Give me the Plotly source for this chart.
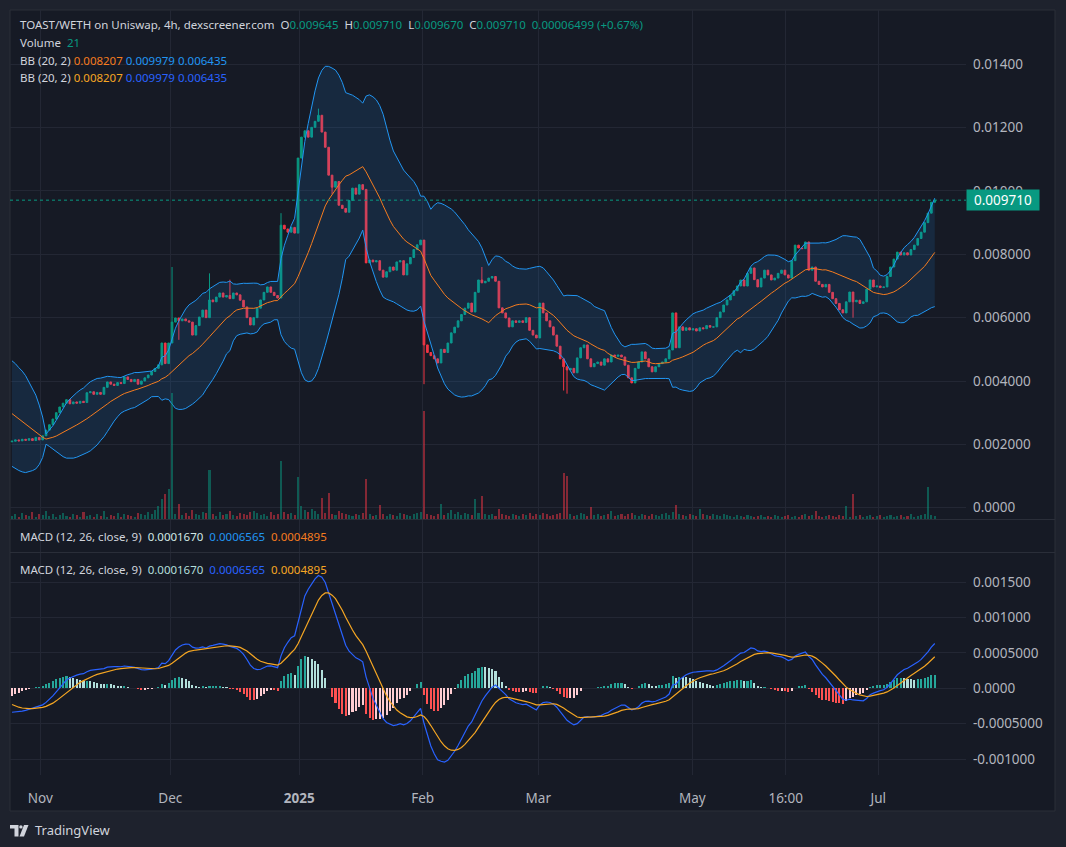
import numpy as np
import pandas as pd
import plotly.graph_objects as go

W, H = 1066, 847

# ---------------- data ----------------
first_open = 0.00208
closes = [
    0.00210, 0.00214, 0.00211, 0.00216, 0.00213, 0.00218, 0.00212, 0.00222, 0.00214, 0.00227,
    0.00245, 0.00262, 0.00280, 0.00300, 0.00318, 0.00330, 0.00341, 0.00328, 0.00334, 0.00330,
    0.00336, 0.00332, 0.00363, 0.00366, 0.00358, 0.00364, 0.00358, 0.00380, 0.00397, 0.00390,
    0.00386, 0.00395, 0.00392, 0.00413, 0.00405, 0.00398, 0.00405, 0.00390, 0.00400, 0.00410,
    0.00419, 0.00430, 0.00440, 0.00451, 0.00520, 0.00455, 0.00520, 0.00586, 0.00599, 0.00590,
    0.00596, 0.00590, 0.00586, 0.00545, 0.00575, 0.00602, 0.00624, 0.00600, 0.00656, 0.00650,
    0.00665, 0.00678, 0.00665, 0.00670, 0.00660, 0.00678, 0.00672, 0.00655, 0.00634, 0.00600,
    0.00577, 0.00600, 0.00630, 0.00656, 0.00680, 0.00697, 0.00680, 0.00670, 0.00662, 0.00892,
    0.00880, 0.00870, 0.00885, 0.00867, 0.01104, 0.01170, 0.01190, 0.01170, 0.01201, 0.01220,
    0.01239, 0.01186, 0.01138, 0.01050, 0.01012, 0.01030, 0.00955, 0.00945, 0.00933, 0.00970,
    0.01009, 0.00990, 0.01020, 0.01005, 0.00773, 0.00782, 0.00776, 0.00780, 0.00750, 0.00728,
    0.00745, 0.00760, 0.00750, 0.00776, 0.00780, 0.00735, 0.00770, 0.00790, 0.00815, 0.00830,
    0.00845, 0.00514, 0.00490, 0.00480, 0.00470, 0.00457, 0.00500, 0.00490, 0.00520, 0.00552,
    0.00570, 0.00590, 0.00610, 0.00630, 0.00646, 0.00618, 0.00680, 0.00719, 0.00710, 0.00715,
    0.00725, 0.00730, 0.00715, 0.00631, 0.00615, 0.00599, 0.00571, 0.00590, 0.00585, 0.00590,
    0.00585, 0.00600, 0.00560, 0.00545, 0.00536, 0.00646, 0.00615, 0.00590, 0.00571, 0.00545,
    0.00510, 0.00470, 0.00445, 0.00435, 0.00440, 0.00426, 0.00473, 0.00505, 0.00514, 0.00470,
    0.00445, 0.00455, 0.00460, 0.00450, 0.00470, 0.00460, 0.00482, 0.00478, 0.00482, 0.00476,
    0.00450, 0.00410, 0.00394, 0.00440, 0.00460, 0.00492, 0.00470, 0.00445, 0.00429, 0.00445,
    0.00455, 0.00460, 0.00470, 0.00498, 0.00615, 0.00505, 0.00571, 0.00560, 0.00568, 0.00561,
    0.00565, 0.00558, 0.00568, 0.00565, 0.00575, 0.00570, 0.00571, 0.00600, 0.00618, 0.00640,
    0.00656, 0.00670, 0.00685, 0.00700, 0.00719, 0.00700, 0.00740, 0.00757, 0.00720, 0.00697,
    0.00725, 0.00750, 0.00735, 0.00719, 0.00725, 0.00740, 0.00750, 0.00735, 0.00725, 0.00780,
    0.00829, 0.00820, 0.00818, 0.00839, 0.00750, 0.00760, 0.00715, 0.00705, 0.00697, 0.00705,
    0.00680, 0.00660, 0.00645, 0.00625, 0.00615, 0.00650, 0.00681, 0.00650, 0.00655, 0.00645,
    0.00650, 0.00690, 0.00719, 0.00697, 0.00700, 0.00695, 0.00697, 0.00730, 0.00760, 0.00785,
    0.00807, 0.00798, 0.00805, 0.00798, 0.00815, 0.00829, 0.00850, 0.00870, 0.00900, 0.00930,
    0.009645, 0.009710,
]
# closes before the visible window (estimated from the band / MACD start values)
warmup_closes = [
    0.00300, 0.00290, 0.00310, 0.00300, 0.00320, 0.00310, 0.00300, 0.00290, 0.00300, 0.00310,
    0.00300, 0.00320, 0.00330, 0.00310, 0.00300, 0.00290, 0.00310, 0.00320, 0.00330, 0.00340,
    0.00350, 0.00380, 0.00390, 0.00370, 0.00380, 0.00400, 0.00380, 0.00370, 0.00390, 0.00380,
    0.00360, 0.00220, 0.00210, 0.00220, 0.00210, 0.00220, 0.00210, 0.00220, 0.00210, 0.00212,
]
wick_high = {47: 0.0076, 58: 0.0074, 64: 0.0072, 79: 0.0093, 90: 0.0126, 138: 0.0076}
wick_low = {49: 0.0053, 94: 0.0099, 121: 0.0039, 162: 0.0037, 163: 0.0036, 247: 0.0060}
volumes = [
    21, 35, 14, 42, 28, 21, 49, 14, 35, 28,
    56, 21, 35, 14, 28, 42, 21, 14, 35, 28,
    14, 49, 21, 28, 14, 35, 21, 56, 14, 28,
    21, 42, 14, 35, 28, 21, 14, 42, 35, 28,
    49, 35, 63, 91, 140, 175, 210, 882, 35, 105,
    28, 42, 21, 63, 35, 28, 49, 42, 343, 35,
    21, 49, 28, 35, 56, 28, 21, 42, 35, 28,
    49, 56, 42, 28, 35, 21, 49, 28, 35, 406,
    49, 35, 42, 28, 294, 91, 63, 49, 70, 56,
    35, 147, 42, 182, 35, 28, 56, 42, 35, 28,
    21, 35, 28, 42, 280, 35, 21, 28, 98, 35,
    21, 35, 28, 21, 42, 35, 28, 21, 35, 42,
    49, 756, 35, 28, 21, 35, 105, 28, 42, 63,
    35, 49, 28, 42, 35, 28, 140, 42, 161, 35,
    28, 35, 21, 70, 35, 28, 21, 35, 28, 21,
    35, 28, 42, 21, 35, 28, 42, 35, 21, 28,
    35, 42, 322, 301, 35, 21, 28, 42, 35, 21,
    84, 28, 35, 21, 28, 35, 56, 21, 28, 35,
    21, 35, 42, 28, 21, 35, 28, 21, 35, 28,
    21, 35, 42, 28, 49, 98, 35, 28, 21, 35,
    28, 21, 70, 35, 28, 21, 35, 28, 21, 35,
    28, 21, 14, 28, 21, 14, 28, 21, 14, 21,
    28, 14, 21, 14, 28, 21, 14, 21, 28, 14,
    21, 14, 28, 35, 21, 28, 56, 21, 14, 21,
    28, 21, 14, 28, 21, 91, 14, 175, 21, 28,
    14, 21, 28, 14, 21, 28, 14, 21, 28, 14,
    21, 28, 14, 21, 35, 14, 21, 28, 35, 224,
    28, 21,
]
time_labels = ["Nov", "Dec", "<b>2025</b>", "Feb", "Mar", "May", "16:00", "Jul"]
time_pos = [8.31, 46.49, 84.38, 120.62, 154.57, 199.79, 227.22, 254.42]
price_ticks = [0.0, 0.002, 0.004, 0.006, 0.008, 0.010, 0.012, 0.014]
price_tick_text = ["0.0000", "0.002000", "0.004000", "0.006000", "0.008000",
                   "0.01000", "0.01200", "0.01400"]
macd_ticks = [-0.001, -0.0005, 0.0, 0.0005, 0.001, 0.0015]
macd_tick_text = ["-0.001000", "-0.0005000", "0.0000", "0.0005000", "0.001000", "0.001500"]
last_price = 0.009710
last_price_text = "0.009710"

# ---------------- styling ----------------
FONT = "Noto Sans"
OUTER_BG = "#1e222d"
PANEL_BG = "#161a25"
BORDER = "#2a2e39"
GRID = "#232734"
TEXT = "#d1d4dc"
AXIS_TEXT = "#b2b5be"
UP = "#089981"
DOWN = "#f23645"
LEG = 11.5
AX = 13.5

def px(x):
    return x / W

def py(y):
    return 1 - y / H

n = len(closes)
idx = np.arange(n)
opens = [first_open] + closes[:-1]
highs = [max(o, c, wick_high.get(i, 0)) for i, (o, c) in enumerate(zip(opens, closes))]
lows = [min(o, c, wick_low.get(i, 1)) for i, (o, c) in enumerate(zip(opens, closes))]

full = pd.Series(warmup_closes + closes)
k = len(warmup_closes)
mid = full.rolling(20).mean()
sd = full.rolling(20).std(ddof=0)
upper = (mid + 2 * sd).iloc[k:].values
lower = (mid - 2 * sd).iloc[k:].values
basis = mid.iloc[k:].values
ema12 = full.ewm(span=12, adjust=False).mean()
ema26 = full.ewm(span=26, adjust=False).mean()
macd_full = ema12 - ema26
sig_full = macd_full.ewm(span=9, adjust=False).mean()
hist_full = macd_full - sig_full
macd = macd_full.iloc[k:].values
sig = sig_full.iloc[k:].values
hist = hist_full.iloc[k:].values
hist_prev = hist_full.shift(1).iloc[k:].values
hist_colors = []
for h, hp in zip(hist, hist_prev):
    if h >= 0:
        hist_colors.append("#26a69a" if h > hp else "#b2dfdb")
    else:
        hist_colors.append("#ff5252" if h < hp else "#ffcdd2")

vol_colors = ["rgba(8,153,129,0.5)" if c >= o else "rgba(242,54,69,0.5)"
              for o, c in zip(opens, closes)]

# ---------------- geometry ----------------
x_left_px, x_right_px = 10, 966
step = 3.405
x0_px = 12
xr = [(x_left_px - x0_px) / step, (x_right_px - x0_px) / step]
xdom = [px(x_left_px), px(x_right_px)]
price_dom = [py(519), py(10)]
mini_dom = [py(552), py(520)]
macd_dom = [py(775), py(553)]
p_per_px = 0.014 / (507.7 - 64.3)
price_range = [-(519 - 507.7) * p_per_px, (507.7 - 10) * p_per_px]
m_per_px = 0.0005 / 35.4
macd_range = [-(775 - 688.3) * m_per_px, (688.3 - 553) * m_per_px]
vol_range = [0, 509 * 7]

fig = go.Figure()
# Bollinger fill + lines
fig.add_trace(go.Scatter(x=idx, y=upper, mode="lines", line=dict(color="#2196f3", width=1),
                         xaxis="x", yaxis="y", hoverinfo="skip"))
fig.add_trace(go.Scatter(x=idx, y=lower, mode="lines", line=dict(color="#2196f3", width=1),
                         fill="tonexty", fillcolor="rgba(33,150,243,0.13)",
                         xaxis="x", yaxis="y", hoverinfo="skip"))
fig.add_trace(go.Scatter(x=idx, y=basis, mode="lines", line=dict(color="#f57c1f", width=1),
                         xaxis="x", yaxis="y", hoverinfo="skip"))
# candles
fig.add_trace(go.Candlestick(
    x=idx, open=opens, high=highs, low=lows, close=closes,
    increasing=dict(line=dict(color=UP, width=1), fillcolor=UP),
    decreasing=dict(line=dict(color=DOWN, width=1), fillcolor=DOWN),
    whiskerwidth=0, xaxis="x", yaxis="y", hoverinfo="skip"))
# volume
fig.add_trace(go.Bar(x=idx, y=volumes, marker=dict(color=vol_colors, line=dict(width=0)),
                     width=0.6, xaxis="x", yaxis="y4", hoverinfo="skip"))
# MACD pane
fig.add_trace(go.Bar(x=idx, y=hist, marker=dict(color=hist_colors, line=dict(width=0)),
                     width=0.6, xaxis="x2", yaxis="y2", hoverinfo="skip"))
fig.add_trace(go.Scatter(x=idx, y=macd, mode="lines", line=dict(color="#2962ff", width=1.2),
                         xaxis="x2", yaxis="y2", hoverinfo="skip"))
fig.add_trace(go.Scatter(x=idx, y=sig, mode="lines", line=dict(color="#f5a623", width=1.2),
                         xaxis="x2", yaxis="y2", hoverinfo="skip"))
# collapsed pane placeholder
fig.add_trace(go.Scatter(x=[idx[0]], y=[0.5], mode="markers", marker=dict(opacity=0),
                         xaxis="x3", yaxis="y3", hoverinfo="skip"))

xcommon = dict(range=xr, domain=xdom, tickvals=time_pos, ticktext=time_labels,
               showgrid=True, gridcolor=GRID, gridwidth=1, zeroline=False,
               showline=False, ticks="", fixedrange=True)
ycommon = dict(side="right", showgrid=True, gridcolor=GRID, zeroline=False, showline=False,
               ticks="", tickfont=dict(family=FONT, size=AX, color=AXIS_TEXT),
               ticklabelstandoff=6, fixedrange=True)

fig.update_layout(
    width=W, height=H, margin=dict(l=0, r=0, t=0, b=0),
    paper_bgcolor=OUTER_BG, plot_bgcolor="rgba(0,0,0,0)",
    showlegend=False, hovermode=False, bargap=0,
    font=dict(family=FONT, size=12, color=TEXT),
    xaxis=dict(anchor="y", showticklabels=False, rangeslider=dict(visible=False), **xcommon),
    yaxis=dict(domain=price_dom, range=price_range, anchor="x",
               tickvals=price_ticks, ticktext=price_tick_text, **ycommon),
    yaxis4=dict(overlaying="y", range=vol_range, visible=False, anchor="x", fixedrange=True),
    xaxis2=dict(anchor="y2", showticklabels=True,
                tickfont=dict(family=FONT, size=AX, color=AXIS_TEXT),
                ticklabelstandoff=13, **xcommon),
    yaxis2=dict(domain=macd_dom, range=macd_range, anchor="x2",
                tickvals=macd_ticks, ticktext=macd_tick_text, **ycommon),
    xaxis3=dict(anchor="y3", showticklabels=False, **xcommon),
    yaxis3=dict(domain=mini_dom, range=[0, 1], anchor="x3", showgrid=False,
                showticklabels=False, zeroline=False, fixedrange=True),
)

shapes = [
    dict(type="rect", xref="paper", yref="paper", x0=px(10), x1=px(1055), y0=py(811), y1=py(10),
         fillcolor=PANEL_BG, line=dict(color=BORDER, width=1), layer="below"),
    dict(type="line", xref="paper", yref="paper", x0=px(10), x1=px(1055), y0=py(519.5), y1=py(519.5),
         line=dict(color=BORDER, width=1)),
    dict(type="line", xref="paper", yref="paper", x0=px(10), x1=px(1055), y0=py(552.5), y1=py(552.5),
         line=dict(color=BORDER, width=1)),
    dict(type="line", xref="paper", yref="y", x0=px(10), x1=px(966), y0=last_price, y1=last_price,
         line=dict(color=UP, width=1, dash="dot")),
]

def path(points):
    return "M " + " L ".join(f"{px(x):.5f},{py(y):.5f}" for x, y in points) + " Z"

logo_c = "#d1d4dc"
shapes += [
    dict(type="path", xref="paper", yref="paper",
         path=path([(10, 825), (18.5, 825), (18.5, 836.5), (14.5, 836.5), (14.5, 828.5), (10, 828.5)]),
         fillcolor=logo_c, line=dict(width=0)),
    dict(type="circle", xref="paper", yref="paper", x0=px(19.2), x1=px(22.6), y0=py(828.6), y1=py(825.2),
         fillcolor=logo_c, line=dict(width=0)),
    dict(type="path", xref="paper", yref="paper",
         path=path([(24, 825), (28.5, 825), (24, 836.5), (19.5, 836.5)]),
         fillcolor=logo_c, line=dict(width=0)),
]
fig.update_layout(shapes=shapes)

nb = "\u00a0"
sp = nb * 2

def col(c, t):
    return f'<span style="color:{c}">{t}</span>'

row1 = ("TOAST/WETH on Uniswap, 4h, dexscreener.com" + sp + "O" + col(UP, "0.009645") + sp +
        "H" + col(UP, "0.009710") + sp + "L" + col(UP, "0.009670") + sp + "C" + col(UP, "0.009710") +
        sp + col(UP, "0.00006499 (+0.67%)"))
row2 = "Volume" + sp + col(UP, "21")
row3 = "BB (20, 2)" + nb + col("#f57c1f", "0.008207") + nb + col("#2196f3", "0.009979") + nb + col("#2196f3", "0.006435")
row4 = "BB (20, 2)" + nb + col("#f5a623", "0.008207") + nb + col("#2962ff", "0.009979") + nb + col("#2962ff", "0.006435")
macd1 = "MACD (12, 26, close, 9)" + sp + col("#d1e8e4", "0.0001670") + sp + col("#2196f3", "0.0006565") + sp + col("#f57c1f", "0.0004895")
macd2 = "MACD (12, 26, close, 9)" + sp + col("#b2dfdb", "0.0001670") + sp + col("#2962ff", "0.0006565") + sp + col("#f5a623", "0.0004895")

ann = []
for text, yy in [(row1, 25), (row2, 42), (row3, 60), (row4, 77), (macd1, 536), (macd2, 569)]:
    ann.append(dict(xref="paper", yref="paper", x=px(18), y=py(yy), xanchor="left", yanchor="middle",
                    text=text, showarrow=False, font=dict(family=FONT, size=LEG, color=TEXT)))
ann.append(dict(xref="paper", yref="y", x=px(966), y=last_price, xanchor="left", yanchor="middle",
                text=last_price_text, showarrow=False, bgcolor=UP, width=68, height=16, borderpad=2,
                align="center", font=dict(family=FONT, size=AX, color="#ffffff")))
ann.append(dict(xref="paper", yref="paper", x=px(33), y=py(830), xanchor="left", yanchor="middle",
                text="TradingView", showarrow=False, font=dict(family=FONT, size=13, color=TEXT)))
fig.update_layout(annotations=ann)

fig.write_html(
    "out.html",
    config={"displayModeBar": False, "staticPlot": True},
    post_script="document.body.style.margin='0';document.body.style.background='#1e222d';",
)
